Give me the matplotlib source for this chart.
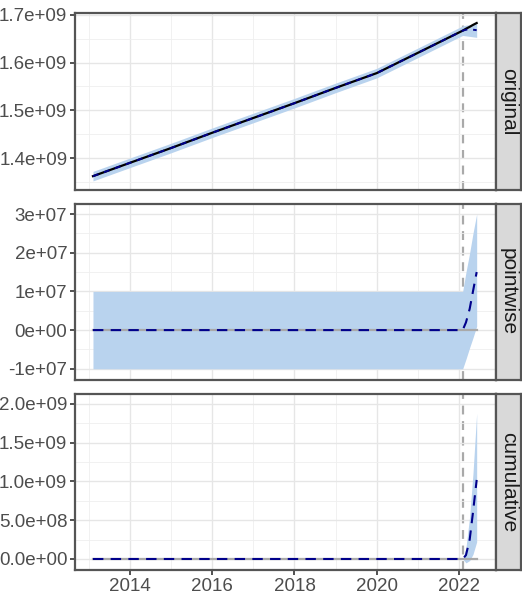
import matplotlib
matplotlib.use("Agg")
import matplotlib.pyplot as plt
import numpy as np

# 前期間 (decimal year) と実測・予測
pre_t = [2013.10, 2014.0, 2015.0, 2016.0, 2017.0, 2018.0, 2019.0, 2020.0, 2021.0, 2022.09]
pre_actual = [1.362e9, 1.390e9, 1.421e9, 1.453e9, 1.484e9, 1.515e9, 1.547e9, 1.578e9, 1.6205e9, 1.667e9]
pre_half_band = 1.0e7

# 後期間
post_t = [2022.09, 2022.17, 2022.26, 2022.34, 2022.43]
post_actual = [1.667e9, 1.671e9, 1.675e9, 1.679e9, 1.683e9]
post_pred = [1.667e9, 1.669e9, 1.6695e9, 1.669e9, 1.668e9]
post_pred_lo = [1.657e9, 1.656e9, 1.655e9, 1.654e9, 1.653e9]
post_pred_hi = [1.677e9, 1.6785e9, 1.6795e9, 1.681e9, 1.682e9]

cum_mean = [0.0, 0.05e9, 0.25e9, 0.60e9, 1.02e9]
cum_lo = [0.0, -0.05e9, -0.02e9, 0.06e9, 0.22e9]
cum_hi = [0.0, 0.15e9, 0.55e9, 1.10e9, 1.88e9]

intervention = 2022.09

x_ticks = [2014, 2016, 2018, 2020, 2022]
y1_ticks = [1.4e9, 1.5e9, 1.6e9, 1.7e9]
y1_labels = ["1.4e+09", "1.5e+09", "1.6e+09", "1.7e+09"]
y2_ticks = [-1e7, 0, 1e7, 2e7, 3e7]
y2_labels = ["-1e+07", "0e+00", "1e+07", "2e+07", "3e+07"]
y3_ticks = [0, 0.5e9, 1.0e9, 1.5e9, 2.0e9]
y3_labels = ["0.0e+00", "5.0e+08", "1.0e+09", "1.5e+09", "2.0e+09"]
strips = ["original", "pointwise", "cumulative"]

# 配列化
t = np.array(pre_t + post_t[1:])
actual = np.array(pre_actual + post_actual[1:])
pred = np.array(pre_actual + post_pred[1:])
pred_lo = np.array([v - pre_half_band for v in pre_actual] + post_pred_lo[1:])
pred_hi = np.array([v + pre_half_band for v in pre_actual] + post_pred_hi[1:])
pw = actual - pred
pw_lo = actual - pred_hi
pw_hi = actual - pred_lo
n_pre = len(pre_t)
cm = np.array([0.0] * (n_pre - 1) + cum_mean)
cl = np.array([0.0] * (n_pre - 1) + cum_lo)
ch = np.array([0.0] * (n_pre - 1) + cum_hi)

tick_font = ["Liberation Sans Narrow", "Liberation Sans", "DejaVu Sans"]
fill = "#B9D3EE"
dash = (0, (5, 3.5))
W, H = 522, 608
fig = plt.figure(figsize=(W / 100, H / 100), dpi=100)

panels = [(13, 190), (204, 380), (394, 570)]
ylims = [(1.333e9, 1.704e9), (-1.29e7, 3.26e7), (-0.142e9, 2.129e9)]
yticks = [(y1_ticks, y1_labels), (y2_ticks, y2_labels), (y3_ticks, y3_labels)]
yminor = [[1.35e9, 1.45e9, 1.55e9, 1.65e9],
          [-0.5e7, 0.5e7, 1.5e7, 2.5e7],
          [0.25e9, 0.75e9, 1.25e9, 1.75e9]]

for i, (top, bot) in enumerate(panels):
    ax = fig.add_axes([75 / W, 1 - bot / H, 421 / W, (bot - top) / H])
    ax.set_xlim(2012.663, 2022.90)
    ax.set_ylim(*ylims[i])
    ax.set_xticks(x_ticks)
    ax.set_xticks([2013, 2015, 2017, 2019, 2021], minor=True)
    ax.set_yticks(yticks[i][0])
    ax.set_yticklabels(yticks[i][1], family=tick_font, fontsize=13.5, color="#4d4d4d")
    ax.set_yticks(yminor[i], minor=True)
    ax.grid(which="major", color="#e6e6e6", lw=1.0, zorder=0)
    ax.grid(which="minor", color="#efefef", lw=0.6, zorder=0)
    ax.tick_params(which="minor", length=0)
    ax.tick_params(which="major", length=3.5, width=1.2, color="#333333", pad=2)
    for s in ax.spines.values():
        s.set_color("#555555")
        s.set_linewidth(1.6)
    if i < 2:
        ax.tick_params(axis="x", which="major", length=0, labelbottom=False)
    else:
        ax.set_xticklabels([str(v) for v in x_ticks], family=tick_font, fontsize=13.5, color="#4d4d4d")

    ax.axvline(intervention, color="#A9A9A9", lw=1.6, ls=(0, (4, 3)), zorder=1)
    if i == 0:
        ax.fill_between(t, pred_lo, pred_hi, color=fill, lw=0, zorder=2)
        ax.plot(t, actual, color="black", lw=1.6, zorder=3)
        ax.plot(t, pred, color="#00008B", lw=1.4, ls=(0, (3, 3)), zorder=4)
    elif i == 1:
        ax.fill_between(t, pw_lo, pw_hi, color=fill, lw=0, zorder=2)
        ax.plot(t, np.zeros_like(t), color="#A9A9A9", lw=1.6, zorder=3)
        ax.plot(t, pw, color="#00008B", lw=1.5, ls=dash, zorder=4)
    else:
        ax.fill_between(t, cl, ch, color=fill, lw=0, zorder=2)
        ax.plot(t, np.zeros_like(t), color="#A9A9A9", lw=1.6, zorder=3)
        ax.plot(t, cm, color="#00008B", lw=1.5, ls=dash, zorder=4)

    sax = fig.add_axes([496 / W, 1 - bot / H, 25 / W, (bot - top) / H])
    sax.set_facecolor("#D9D9D9")
    sax.set_xticks([])
    sax.set_yticks([])
    for s in sax.spines.values():
        s.set_color("#555555")
        s.set_linewidth(1.6)
    sax.text(0.5, 0.5, strips[i], rotation=-90, ha="center", va="center",
             transform=sax.transAxes, family=["Liberation Sans", "DejaVu Sans"],
             fontsize=15, color="#1a1a1a")

fig.savefig("out.png", dpi=100)
